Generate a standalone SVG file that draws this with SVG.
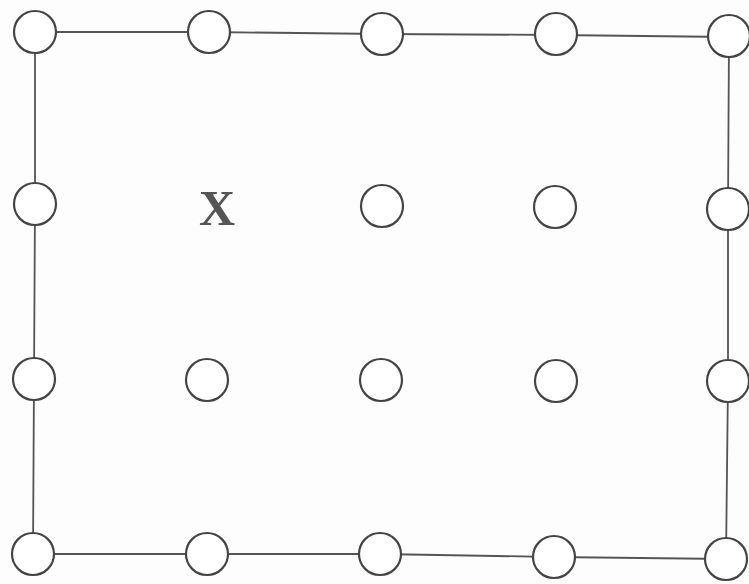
<svg xmlns="http://www.w3.org/2000/svg" width="749" height="584" viewBox="0 0 749 584">
<style>
.n{fill:#ffffff;stroke:#444;stroke-width:2.2}
.e{stroke:#555;stroke-width:1.8;fill:none}
</style>
<rect width="749" height="584" fill="#fdfdfd"/>
<g id="connectors">
<polyline class="e" points="35,32 209,32 382,34 556,35 729,37 728,209 728,381 726,559 554,557 380,554 207,554 33,554 34,379 35,204 35,32"/>
</g>
<g id="n1"><circle class="n" cx="35" cy="32" r="21"/></g>
<g id="n2"><circle class="n" cx="209" cy="32" r="21"/></g>
<g id="n3"><circle class="n" cx="382" cy="34" r="21"/></g>
<g id="n4"><circle class="n" cx="556" cy="34" r="21"/></g>
<g id="n5"><circle class="n" cx="729" cy="36" r="21"/></g>
<g id="n6"><circle class="n" cx="35" cy="204" r="21"/></g>
<g id="x"><text x="217" y="225" text-anchor="middle" font-family="Liberation Serif, serif" font-weight="bold" font-size="50" fill="#555">X</text></g>
<g id="n8"><circle class="n" cx="382" cy="206" r="21"/></g>
<g id="n9"><circle class="n" cx="555" cy="207" r="21"/></g>
<g id="n10"><circle class="n" cx="728" cy="209" r="21"/></g>
<g id="n11"><circle class="n" cx="34" cy="379" r="21"/></g>
<g id="n12"><circle class="n" cx="207" cy="380" r="21"/></g>
<g id="n13"><circle class="n" cx="381" cy="380" r="21"/></g>
<g id="n14"><circle class="n" cx="556" cy="381" r="21"/></g>
<g id="n15"><circle class="n" cx="728" cy="381" r="21"/></g>
<g id="n16"><circle class="n" cx="33" cy="554" r="21"/></g>
<g id="n17"><circle class="n" cx="207" cy="554" r="21"/></g>
<g id="n18"><circle class="n" cx="380" cy="554" r="21"/></g>
<g id="n19"><circle class="n" cx="554" cy="557" r="21"/></g>
<g id="n20"><circle class="n" cx="726" cy="559" r="21"/></g>
</svg>
